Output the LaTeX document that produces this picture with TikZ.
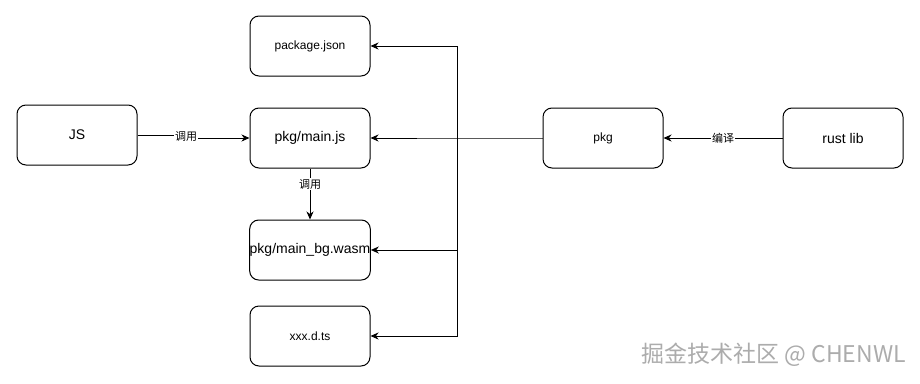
\documentclass[tikz,border=0pt]{standalone}
\usepackage{fontspec}
\setmainfont{Liberation Sans}
\newfontfamily\cjk{Noto Sans CJK SC}
\usetikzlibrary{arrows.meta}
\begin{document}
\begin{tikzpicture}[x=1pt,y=-1pt,
  box/.style={draw=black,line width=1pt,rounded corners=9pt,minimum width=120pt,minimum height=60pt,inner sep=0pt,fill=white},
  conn/.style={line width=1pt,-{Stealth[length=8pt,width=7pt,inset=2.5pt]}},
  lbl/.style={fill=white,inner sep=1pt,font=\cjk\fontsize{11}{12}\selectfont},
  t14/.style={font=\fontsize{14}{16}\selectfont},
  t12/.style={font=\fontsize{12}{14}\selectfont}]
\useasboundingbox[fill=white] (0,0) rectangle (920,383);
\node[box,t12] (pj) at (310,46) {package.json};
\node[box,t14] (js) at (77,135) {JS};
\node[box,t14] (mainjs) at (310,138) {pkg/main.js};
\node[box,t14] (wasm) at (310,250) {pkg/main\_bg.wasm};
\node[box,t12] (dts) at (310,336) {xxx.d.ts};
\node[box,t12] (pkg) at (603,138) {pkg};
\node[box,t14] (rust) at (843,138) {rust lib};
\coordinate (trunk) at (457,138);
\coordinate (jogA) at (186,135);
\coordinate (jogB) at (186,138);
% JS -> main.js
\draw[conn] (js.east) -- (jogA) -- (jogB) -- (mainjs.west);
\node[lbl] (l1) at (186,136.5) {调用};
% main.js -> wasm
\draw[conn] (mainjs.south) -- (wasm.north);
\node[lbl] (l2) at (310,184) {调用};
% rust -> pkg
\draw[conn] (rust.west) -- (pkg.east);
\node[lbl] (l3) at (723,138) {编译};
% pkg -> files
\draw[conn] (pkg.west) -- (trunk) -- (mainjs.east);
\draw[conn] (trunk) |- (pj.east);
\draw[conn] (trunk) |- (wasm.east);
\draw[conn] (trunk) |- (dts.east);
% watermark
\node[anchor=east,inner sep=0pt,text=white!35!gray,font=\cjk\fontsize{23}{26}\selectfont] (wm) at (906,355) {掘金技术社区 @ CHENWL};
\end{tikzpicture}
\end{document}
